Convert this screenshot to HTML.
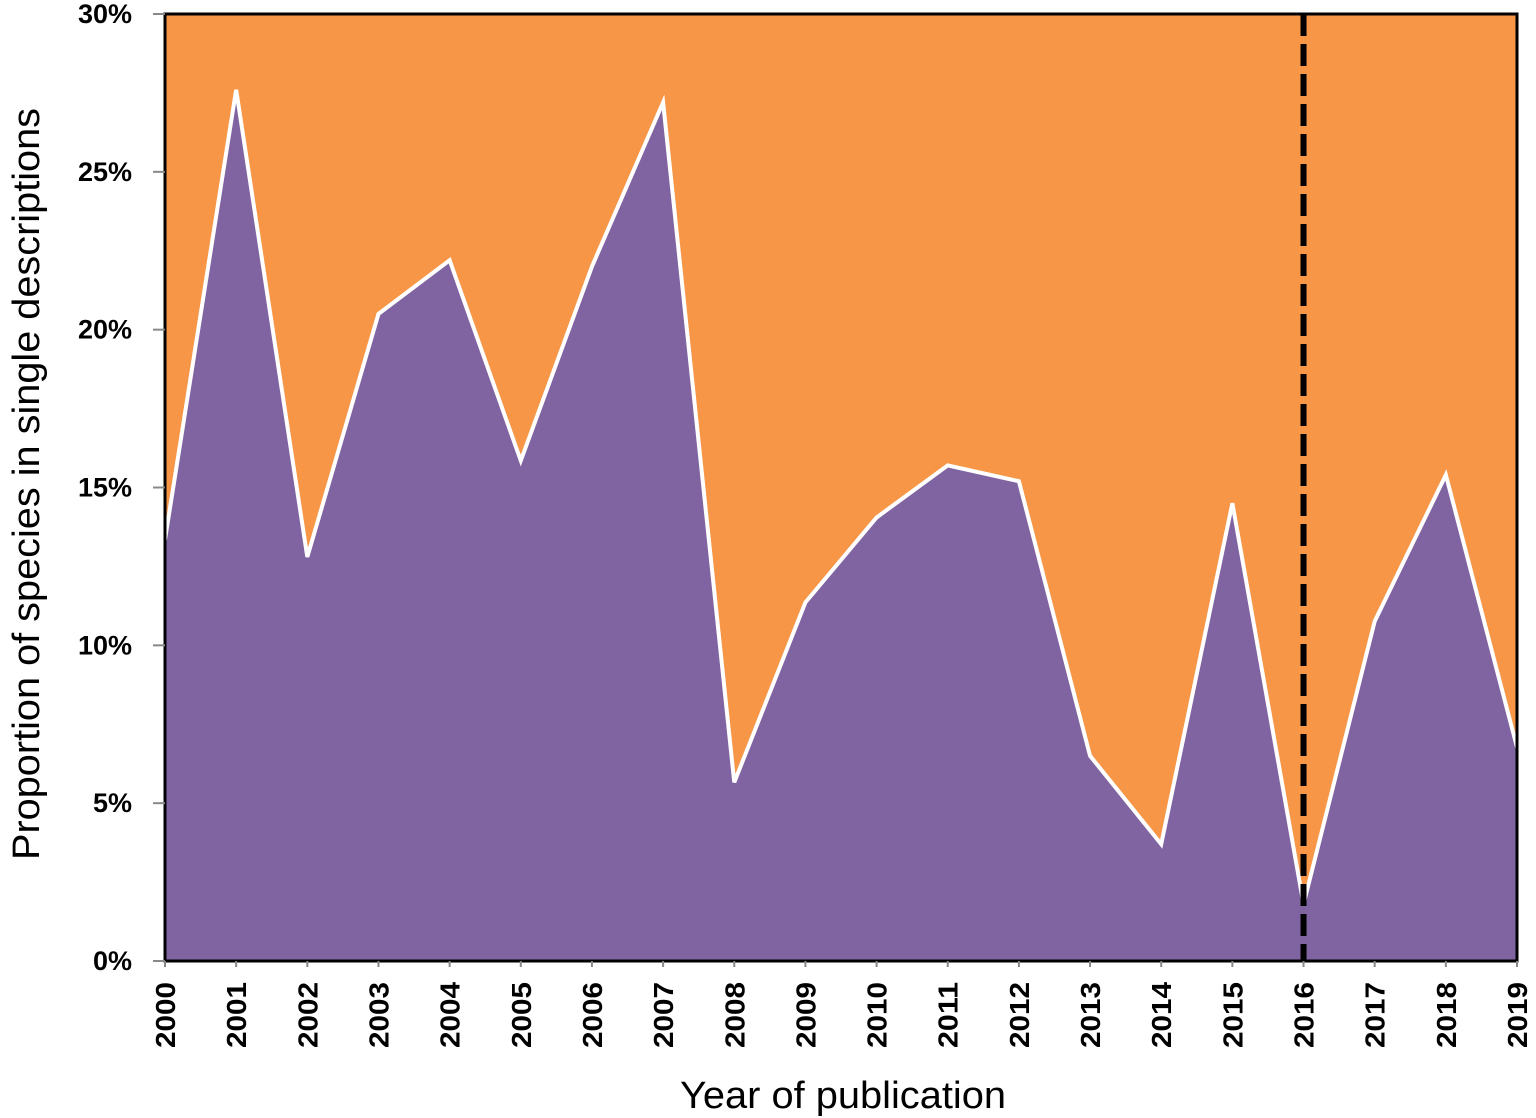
<!DOCTYPE html>
<html><head><meta charset="utf-8"><style>
html,body{margin:0;padding:0;background:#fff;}
svg{display:block;font-family:"Liberation Sans",sans-serif;}
</style></head><body>
<svg id="chart" width="1536" height="1118" viewBox="0 0 1536 1118"></svg>
<script>
const years = ["2000","2001","2002","2003","2004","2005","2006","2007","2008","2009","2010","2011","2012","2013","2014","2015","2016","2017","2018","2019"];
const singleValues = [13.35,27.6,12.8,20.5,22.2,15.85,22.0,27.2,5.66,11.36,14.05,15.7,15.2,6.5,3.7,14.5,1.8,10.76,15.4,6.77];
const yTicks = [0,5,10,15,20,25,30];
const yTickLabels = ["0%","5%","10%","15%","20%","25%","30%"];
const markerYear = "2016";

const NS="http://www.w3.org/2000/svg";
const svg=document.getElementById('chart');
const L=165,R=1517,T=14,B=961;
const xS=i=>L+(R-L)*i/(years.length-1);
const yS=v=>B-(B-T)*v/30;
function mk(tag,attrs,parent){const e=document.createElementNS(NS,tag);for(const k in attrs)e.setAttribute(k,attrs[k]);(parent||svg).appendChild(e);return e;}

const bg=mk('rect',{x:L,y:T,width:R-L,height:B-T,fill:'#F79646'});



let d=`M${L},${B}`;
singleValues.forEach((v,i)=>{d+=` L${xS(i)},${yS(v)}`;});
d+=` L${R},${B} Z`;
const area=mk('path',{d:d,fill:'#8064A2'});



const line=mk('polyline',{points:singleValues.map((v,i)=>`${xS(i)},${yS(v)}`).join(' '),fill:'none',stroke:'#fff','stroke-width':4,'stroke-linejoin':'miter'});



const mi=years.indexOf(markerYear);
const dash=mk('line',{x1:xS(mi),x2:xS(mi),y1:T,y2:B,stroke:'#000','stroke-width':6,'stroke-dasharray':'22 8'});



const frame=mk('rect',{x:L,y:T,width:R-L,height:B-T,fill:'none',stroke:'#000','stroke-width':3});



yTicks.forEach((t,i)=>{
  const tk=mk('line',{x1:L-12,x2:L,y1:yS(t),y2:yS(t),stroke:'#888','stroke-width':2});
  
  
  const tx=mk('text',{x:132,y:yS(t)+9,'text-anchor':'end','font-size':27,'font-weight':'bold',fill:'#000'});
  tx.textContent=yTickLabels[i];
  
  
});
years.forEach((yr,i)=>{
  const x=xS(i);
  const tk=mk('line',{x1:x,x2:x,y1:B,y2:B+6,stroke:'#888','stroke-width':2});
  
  
  const tx=mk('text',{x:0,y:0,transform:`translate(${x+10},${982}) rotate(-90)`,'text-anchor':'end','font-size':28,'font-weight':'bold',fill:'#000',textLength:66,lengthAdjust:'spacingAndGlyphs'});
  tx.textContent=yr;
  
  
});
const xt=mk('text',{x:843,y:1108,'text-anchor':'middle','font-size':38,fill:'#000',textLength:326,lengthAdjust:'spacingAndGlyphs'});
xt.textContent='Year of publication';


const yt=mk('text',{x:0,y:0,transform:'translate(39,484) rotate(-90)','text-anchor':'middle','font-size':38,fill:'#000',textLength:752,lengthAdjust:'spacingAndGlyphs'});
yt.textContent='Proportion of species in single descriptions';


</script>
</body></html>
